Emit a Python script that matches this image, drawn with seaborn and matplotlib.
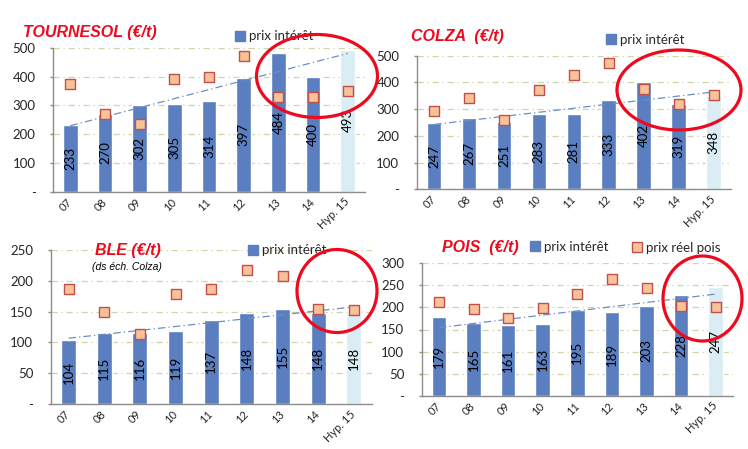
import numpy as np
import matplotlib
matplotlib.use("Agg")
import matplotlib.pyplot as plt
import seaborn as sns
from matplotlib.patches import Ellipse
from matplotlib.lines import Line2D
from matplotlib.transforms import ScaledTranslation

# --- data ---
years = ['07', '08', '09', '10', '11', '12', '13', '14', 'Hyp. 15']

tournesol_interet = [233, 270, 302, 305, 314, 397, 484, 400, 493]
tournesol_reel = [375, 271, 236, 393, 400, 473, 328, 328, 351]

colza_interet = [247, 267, 251, 283, 281, 333, 402, 319, 348]
colza_reel = [294, 343, 258, 373, 429, 474, 377, 320, 354]

ble_interet = [104, 115, 116, 119, 137, 148, 155, 148, 148]
ble_reel = [187, 149, 113, 179, 186, 218, 207, 155, 153]

pois_interet = [179, 165, 161, 163, 195, 189, 203, 228, 247]
pois_reel = [213, 197, 177, 199, 231, 265, 243, 204, 202]

label_interet = 'prix intérêt'
label_reel = 'prix réel pois'

# --- style ---
sns.set_style('white')
plt.rcParams['font.family'] = ['Lato', 'DejaVu Sans']

BAR = '#5a7ec0'
BAR_HYP = '#daedf4'
SQ_FILL = '#f8c298'
SQ_EDGE = '#c0504d'
RED = '#ee0a1e'
GRID = '#d3d3a8'
AXIS = '#8c8c8c'
TREND = '#6d8dc6'

W, H = 748, 449
fig = plt.figure(figsize=(W / 100, H / 100), dpi=100)


def rect(left, top, right, bottom):
    return [left / W, 1 - bottom / H, (right - left) / W, (bottom - top) / H]


def fx(x):
    return x / W


def fy(y):
    return 1 - y / H


def draw(ax, interet, reel, ymax, step, xmax):
    pal = {y: (BAR_HYP if y.startswith('Hyp') else BAR) for y in years}
    sns.barplot(x=years, y=interet, hue=years, palette=pal, legend=False,
                width=0.42, saturation=1, ax=ax, zorder=2)
    for c in ax.containers:
        ax.bar_label(c, fmt='%d', label_type='center', rotation=90,
                     fontsize=9.5, color='black')
    # linear trend on the bar series
    sns.regplot(x=np.arange(len(years)), y=interet, ax=ax, scatter=False,
                ci=None, truncate=True,
                line_kws=dict(color=TREND, lw=0.9, ls=(0, (6, 2.5, 1, 2.5)), zorder=3))
    sns.stripplot(x=years, y=reel, ax=ax, marker='s', size=6.5, jitter=False,
                  color=SQ_FILL, edgecolor=SQ_EDGE, linewidth=1, zorder=4)

    ax.set_xlim(-0.5, xmax)
    ax.set_ylim(0, ymax)
    ticks = np.arange(0, ymax + 1, step)
    ax.set_yticks(ticks)
    ax.set_yticklabels(['-'] + [str(t) for t in ticks[1:]], fontsize=9.5)
    ax.set_xticks(range(len(years)))
    ax.set_xticklabels(years, rotation=45, ha='right', rotation_mode='anchor',
                       va='center', fontsize=8)
    off = ScaledTranslation(3 / 72, 0, fig.dpi_scale_trans)
    for lbl in ax.get_xticklabels():
        lbl.set_transform(lbl.get_transform() + off)
    ax.set_xticks(np.arange(-0.5, len(years), 1), minor=True)
    ax.tick_params(axis='x', which='major', length=0, pad=6)
    ax.tick_params(axis='x', which='minor', length=4, color=AXIS, width=1)
    ax.tick_params(axis='y', length=2.5, color=AXIS, width=1, pad=10, left=True)
    ax.set(xlabel='', ylabel='')
    ax.yaxis.grid(True, color=GRID, lw=0.9, ls=(0, (5, 3, 1, 3)))
    ax.set_axisbelow(True)
    for s in ['top', 'right']:
        ax.spines[s].set_visible(False)
    for s in ['left', 'bottom']:
        ax.spines[s].set_color(AXIS)
        ax.spines[s].set_linewidth(1)


def key(x, y, label, face, edge):
    # x, y: centre of the square key, in pixels
    h = Line2D([], [], ls='none', marker='s', markersize=6.5,
               markerfacecolor=face, markeredgecolor=edge, markeredgewidth=1)
    fig.legend(handles=[h], labels=[label], loc='center left',
               bbox_to_anchor=(fx(x - 5.3), fy(y)), frameon=False,
               fontsize=9.5, handlelength=0.8, handletextpad=0.25,
               borderpad=0, borderaxespad=0)


def ring(cx, cy, w, h):
    fig.add_artist(Ellipse((fx(cx), fy(cy)), w / W, h / H,
                           transform=fig.transFigure, fill=False,
                           ec=RED, lw=2.3, zorder=10))


# TOURNESOL
ax1 = fig.add_axes(rect(53, 48, 365, 191.7))
draw(ax1, tournesol_interet, tournesol_reel, 500, 100, 8.19)
fig.text(fx(23), fy(32), 'TOURNESOL (€/t)', color=RED, fontsize=11.5,
         fontweight='bold', fontstyle='italic', family='Liberation Sans',
         ha='left', va='center')
key(240, 36.5, label_interet, BAR, BAR)
ring(317, 76, 121, 83)

# COLZA
ax2 = fig.add_axes(rect(416.7, 55.7, 731, 189.3))
draw(ax2, colza_interet, colza_reel, 500, 100, 8.5)
fig.text(fx(411), fy(37), 'COLZA  (€/t)', color=RED, fontsize=11.5,
         fontweight='bold', fontstyle='italic', family='Liberation Sans',
         ha='left', va='center')
key(611, 39.5, label_interet, BAR, BAR)
ring(679, 90, 124, 80)

# BLE
ax3 = fig.add_axes(rect(50.7, 250, 371.7, 404))
draw(ax3, ble_interet, ble_reel, 250, 50, 8.5)
fig.text(fx(95), fy(250), 'BLE (€/t)', color=RED, fontsize=11.5,
         fontweight='bold', fontstyle='italic', family='Liberation Sans',
         ha='left', va='center')
fig.text(fx(92), fy(266.5), '(ds éch. Colza)', color='black', fontsize=7.5,
         fontstyle='italic', family='Liberation Sans', ha='left', va='center')
key(253.5, 250.5, label_interet, BAR, BAR)
ring(337, 291, 80, 83)

# POIS
ax4 = fig.add_axes(rect(421.7, 263.3, 733, 395.7))
draw(ax4, pois_interet, pois_reel, 300, 50, 8.5)
fig.text(fx(442), fy(247.5), 'POIS  (€/t)', color=RED, fontsize=11.5,
         fontweight='bold', fontstyle='italic', family='Liberation Sans',
         ha='left', va='center')
key(535, 247, label_interet, BAR, BAR)
key(637, 247.5, label_reel, SQ_FILL, SQ_EDGE)
ring(702.5, 298.5, 79, 85)

fig.savefig('out.png', dpi=100)
